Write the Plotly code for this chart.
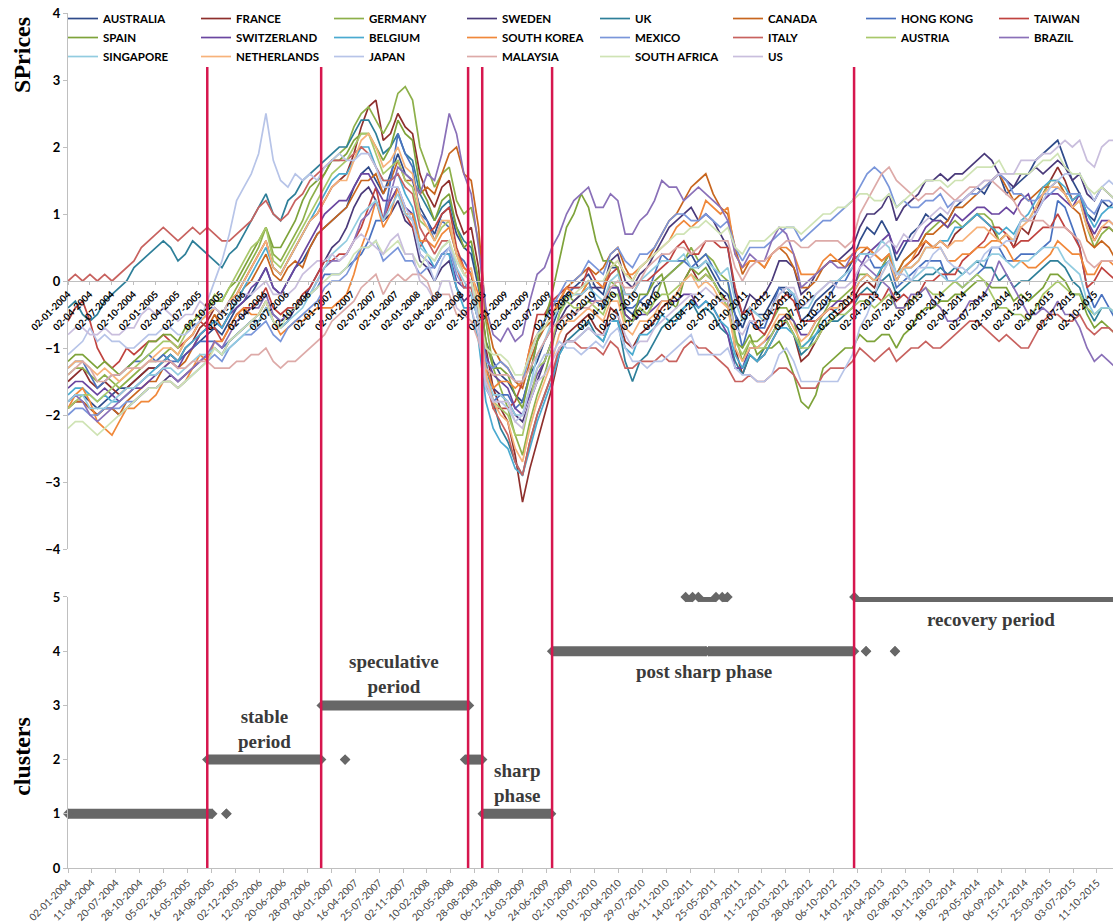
import plotly.graph_objects as go
import pandas as pd

# ---------------- data ----------------
countries = ["AUSTRALIA", "FRANCE", "GERMANY", "SWEDEN", "UK", "CANADA", "HONG KONG", "TAIWAN",
             "SPAIN", "SWITZERLAND", "BELGIUM", "SOUTH KOREA", "MEXICO", "ITALY", "AUSTRIA", "BRAZIL",
             "SINGAPORE", "NETHERLANDS", "JAPAN", "MALAYSIA", "SOUTH AFRICA", "US"]
colors = ["#2F4B8A", "#8E2F2C", "#8DB04A", "#4A3A7A", "#2E7F99", "#C8661E", "#4A72C0", "#C0433F",
          "#7EA33A", "#6A46A0", "#4AAAD0", "#F0883A", "#7A96DA", "#C8625F", "#A8C86A", "#8A70B8",
          "#92CCE0", "#F7B27A", "#B7C4E8", "#DDAAA8", "#CFE3B4", "#C9BEDD"]

# monthly readings, Jan 2004 .. Dec 2015 (one row per year)
AUSTRALIA = [-1.8,-1.7,-1.7,-1.8,-1.9,-1.8,-1.7,-1.6,-1.6,-1.5,-1.4,-1.3,
 -1.3,-1.2,-1.1,-1.2,-1.1,-1.0,-0.9,-0.8,-0.7,-0.8,-0.6,-0.4,
 -0.3,-0.2,0.0,0.2,-0.1,-0.2,0.0,0.2,0.3,0.5,0.7,0.8,
 0.9,1.0,1.1,1.4,1.6,1.7,1.5,1.3,1.6,1.9,1.6,1.5,
 1.1,0.9,0.7,1.0,1.1,0.7,0.5,0.4,-0.1,-0.9,-1.2,-1.4,
 -1.5,-1.7,-1.8,-1.4,-1.2,-0.9,-0.7,-0.4,-0.2,-0.1,0.0,0.1,
 -0.1,-0.2,0.2,0.2,-0.4,-0.5,-0.3,-0.4,-0.1,0.0,0.1,0.2,
 0.3,0.4,0.2,0.3,0.1,-0.1,-0.2,-0.5,-0.7,-0.4,-0.5,-0.5,
 -0.3,-0.1,-0.1,-0.2,-0.6,-0.5,-0.3,-0.2,-0.1,0.0,0.1,0.3,
 0.6,0.8,0.7,0.9,0.7,0.3,0.5,0.7,0.8,1.0,0.9,1.0,
 0.9,1.1,1.2,1.3,1.4,1.3,1.5,1.6,1.3,1.4,1.5,1.6,
 1.8,1.9,2.0,2.1,1.8,1.5,1.3,1.0,0.9,1.2,1.1,1.2]
FRANCE = [-1.5,-1.4,-1.3,-1.5,-1.6,-1.5,-1.6,-1.7,-1.6,-1.5,-1.4,-1.3,
 -1.3,-1.2,-1.1,-1.2,-1.0,-0.9,-0.7,-0.6,-0.4,-0.5,-0.3,-0.2,
 0.0,0.2,0.4,0.6,0.2,0.1,0.3,0.5,0.7,0.9,1.0,1.2,
 1.4,1.5,1.6,1.9,2.3,2.6,2.7,2.1,2.2,2.5,2.3,2.2,
 1.6,1.3,1.1,1.4,1.5,1.0,0.7,0.8,0.2,-1.0,-1.6,-1.9,
 -2.1,-2.6,-3.3,-2.8,-2.4,-2.0,-1.6,-1.1,-0.8,-0.7,-0.6,-0.5,
 -0.7,-0.8,-0.4,-0.5,-0.9,-1.0,-0.8,-0.7,-0.6,-0.4,-0.3,-0.2,
 0.0,0.2,0.0,0.1,0.0,-0.2,-0.3,-1.0,-1.4,-1.1,-1.2,-1.1,
 -0.9,-0.7,-0.6,-0.8,-1.2,-1.1,-0.9,-0.7,-0.6,-0.5,-0.4,-0.3,
 -0.1,0.0,-0.1,0.2,0.4,0.0,0.2,0.3,0.4,0.6,0.5,0.6,
 0.5,0.7,0.8,0.9,1.0,0.9,0.8,0.6,0.7,0.5,0.8,0.7,
 1.0,1.3,1.5,1.7,1.5,1.2,1.3,0.9,0.6,0.8,0.8,0.7]
GERMANY = [-1.4,-1.3,-1.3,-1.4,-1.5,-1.4,-1.5,-1.6,-1.5,-1.4,-1.3,-1.2,
 -1.2,-1.1,-1.0,-1.1,-0.9,-0.8,-0.6,-0.5,-0.4,-0.5,-0.3,-0.1,
 0.1,0.3,0.5,0.8,0.4,0.3,0.5,0.7,0.9,1.2,1.4,1.6,
 1.8,1.9,2.0,2.3,2.5,2.6,2.4,2.2,2.4,2.8,2.9,2.7,
 2.0,1.7,1.4,1.6,1.7,1.2,1.0,1.1,0.6,-0.6,-1.3,-1.6,
 -1.9,-2.3,-2.6,-2.1,-1.7,-1.4,-1.0,-0.5,-0.2,-0.3,-0.2,0.0,
 -0.3,-0.4,0.0,-0.1,-0.6,-0.6,-0.4,-0.5,-0.3,0.0,0.1,0.2,
 0.3,0.5,0.3,0.4,0.3,0.1,0.0,-0.8,-1.2,-0.9,-0.9,-0.8,
 -0.6,-0.4,-0.4,-0.6,-1.0,-0.9,-0.7,-0.5,-0.3,-0.3,-0.2,-0.1,
 0.1,0.1,0.0,0.2,0.4,0.1,0.3,0.4,0.5,0.7,0.8,0.9,
 0.8,0.9,0.8,0.9,1.0,1.0,0.9,0.6,0.7,0.6,0.9,0.9,
 1.1,1.3,1.5,1.5,1.3,1.1,1.2,0.8,0.5,0.7,0.8,0.7]
SWEDEN = [-1.9,-1.8,-1.8,-1.9,-2.0,-1.9,-1.9,-2.0,-1.9,-1.8,-1.7,-1.6,
 -1.6,-1.5,-1.4,-1.5,-1.4,-1.3,-1.2,-1.1,-1.0,-1.1,-0.9,-0.8,
 -0.7,-0.6,-0.5,-0.3,-0.6,-0.7,-0.6,-0.4,-0.3,-0.1,0.1,0.3,
 0.5,0.6,0.8,1.1,1.3,1.4,1.2,0.9,1.0,1.2,0.9,0.8,
 0.3,0.2,0.0,0.2,0.3,-0.1,-0.3,-0.2,-0.6,-1.3,-1.6,-1.7,
 -1.8,-2.0,-2.1,-1.8,-1.5,-1.2,-0.9,-0.6,-0.4,-0.3,-0.2,-0.1,
 -0.1,-0.1,0.3,0.4,0.0,-0.1,0.1,0.2,0.4,0.6,0.8,0.9,
 1.0,1.1,0.9,1.0,0.9,0.7,0.5,-0.2,-0.5,-0.2,-0.3,-0.2,
 0.0,0.3,0.3,0.2,-0.2,-0.1,0.1,0.2,0.3,0.3,0.4,0.5,
 0.8,1.0,1.0,1.1,1.3,0.9,1.1,1.2,1.3,1.5,1.5,1.6,
 1.5,1.6,1.6,1.7,1.8,1.9,1.8,1.6,1.5,1.4,1.6,1.6,
 1.7,1.6,1.7,1.8,1.7,1.5,1.6,1.3,1.2,1.4,1.3,1.2]
UK = [-0.4,-0.3,-0.5,-0.6,-0.5,-0.3,-0.2,-0.1,0.0,0.2,0.3,0.4,
 0.5,0.6,0.5,0.3,0.4,0.6,0.5,0.4,0.3,0.2,0.4,0.5,
 0.7,0.9,1.1,1.3,1.0,0.9,1.2,1.3,1.5,1.6,1.7,1.8,
 1.9,2.0,2.0,2.2,2.4,2.4,2.2,1.9,2.0,2.2,1.9,1.8,
 1.3,1.1,0.9,1.1,1.2,0.8,0.6,0.5,0.0,-1.2,-1.8,-2.2,
 -2.4,-2.7,-2.9,-2.4,-2.0,-1.7,-1.4,-1.1,-0.9,-0.8,-0.7,-0.6,
 -0.8,-0.9,-0.6,-0.6,-1.2,-1.5,-1.2,-1.1,-0.9,-0.7,-0.6,-0.5,
 -0.4,-0.3,-0.5,-0.4,-0.5,-0.7,-0.8,-1.2,-1.4,-1.1,-1.2,-1.0,
 -0.8,-0.6,-0.6,-0.8,-1.1,-1.0,-0.8,-0.7,-0.6,-0.6,-0.5,-0.4,
 -0.2,-0.1,-0.2,0.0,0.1,-0.2,-0.1,0.0,0.0,0.1,0.1,0.2,
 0.1,0.2,0.1,0.2,0.3,0.2,0.2,0.0,0.1,-0.1,0.0,0.0,
 0.1,0.2,0.3,0.3,0.2,0.0,-0.1,-0.4,-0.6,-0.4,-0.4,-0.5]
CANADA = [-1.9,-1.8,-1.8,-1.9,-2.0,-1.9,-1.9,-2.0,-1.8,-1.7,-1.6,-1.5,
 -1.5,-1.3,-1.2,-1.3,-1.2,-1.0,-0.8,-0.7,-0.5,-0.7,-0.5,-0.3,
 -0.1,0.0,0.2,0.4,0.1,0.0,0.2,0.3,0.2,0.5,0.7,0.8,
 0.9,1.0,1.1,1.3,1.5,1.5,1.6,1.3,1.5,1.8,1.5,1.5,
 1.3,1.4,1.3,1.6,1.9,2.0,1.6,1.5,0.8,-0.5,-1.0,-1.2,
 -1.3,-1.5,-1.6,-1.2,-0.9,-0.7,-0.6,-0.3,-0.1,0.0,0.1,0.2,
 0.1,0.2,0.4,0.5,0.2,0.0,0.2,0.3,0.5,0.7,0.9,1.0,
 1.2,1.4,1.5,1.6,1.3,1.1,1.0,0.5,0.1,0.3,0.3,0.2,
 0.4,0.5,0.4,0.2,-0.1,-0.1,0.0,0.2,0.3,0.3,0.2,0.3,
 0.4,0.5,0.4,0.3,0.4,0.1,0.3,0.4,0.5,0.7,0.7,0.8,
 0.9,1.1,1.1,1.2,1.3,1.4,1.5,1.6,1.4,1.2,1.3,1.2,
 1.3,1.4,1.4,1.5,1.3,1.1,1.0,0.6,0.5,0.6,0.5,0.3]
HONG_KONG = [-1.3,-1.2,-1.2,-1.4,-1.6,-1.5,-1.4,-1.4,-1.3,-1.2,-1.2,-1.1,
 -1.2,-1.1,-1.2,-1.2,-1.1,-1.0,-0.9,-0.9,-0.9,-1.0,-0.9,-0.8,
 -0.7,-0.6,-0.6,-0.4,-0.5,-0.6,-0.5,-0.4,-0.3,-0.2,-0.1,0.1,
 0.1,0.1,0.2,0.3,0.4,0.6,0.9,0.9,1.5,2.2,1.9,1.7,
 1.0,0.9,0.6,0.9,0.8,0.4,0.3,0.1,-0.5,-1.6,-1.8,-1.7,
 -1.7,-1.9,-1.8,-1.4,-0.9,-0.6,-0.3,-0.3,-0.2,-0.1,-0.1,0.0,
 -0.3,-0.4,-0.1,-0.1,-0.4,-0.4,-0.3,-0.2,0.1,0.4,0.3,0.3,
 0.3,0.2,0.3,0.4,0.2,0.0,0.0,-0.5,-1.0,-0.6,-0.7,-0.7,
 -0.4,-0.1,-0.2,-0.2,-0.6,-0.6,-0.5,-0.4,-0.2,0.0,0.0,0.2,
 0.4,0.4,0.2,0.2,0.3,-0.1,0.0,0.1,0.2,0.3,0.3,0.3,
 0.0,0.0,-0.1,0.0,0.1,0.2,0.5,0.5,0.3,0.3,0.4,0.4,
 0.4,0.5,0.6,1.2,1.1,0.8,0.5,-0.1,-0.4,-0.2,-0.4,-0.6]
TAIWAN = [-0.6,-0.4,-0.3,-0.6,-1.0,-1.2,-1.3,-1.2,-1.0,-1.1,-1.0,-0.9,
 -0.9,-0.8,-0.9,-1.0,-0.9,-0.8,-0.6,-0.7,-0.7,-0.9,-0.7,-0.5,
 -0.4,-0.4,-0.3,-0.1,-0.4,-0.5,-0.4,-0.4,-0.2,-0.1,0.1,0.3,
 0.3,0.4,0.4,0.6,0.8,1.1,1.4,0.9,1.2,1.4,1.0,0.8,
 0.5,0.7,0.8,1.0,1.1,0.5,0.2,0.1,-0.5,-1.4,-1.9,-1.9,
 -1.9,-1.8,-1.5,-1.0,-0.5,-0.5,-0.3,-0.2,-0.1,-0.1,-0.1,0.2,
 0.0,-0.1,0.1,0.2,-0.2,-0.2,0.0,0.0,0.1,0.2,0.3,0.5,
 0.6,0.4,0.4,0.6,0.6,0.5,0.5,-0.1,-0.5,-0.4,-0.7,-0.8,
 -0.6,-0.3,-0.2,-0.3,-0.6,-0.6,-0.6,-0.5,-0.4,-0.5,-0.4,-0.3,
 -0.2,-0.2,-0.2,-0.3,-0.1,-0.3,-0.2,-0.3,-0.2,0.0,0.0,0.1,
 0.1,0.1,0.3,0.4,0.5,0.6,0.8,0.8,0.7,0.5,0.6,0.6,
 0.7,0.8,0.8,1.0,0.8,0.7,0.5,-0.1,0.0,0.2,0.1,0.0]
SPAIN = [-1.2,-1.1,-1.1,-1.2,-1.3,-1.2,-1.3,-1.4,-1.3,-1.2,-1.1,-0.9,
 -0.9,-0.8,-0.8,-0.9,-0.7,-0.6,-0.5,-0.4,-0.3,-0.3,-0.1,0.0,
 0.2,0.4,0.6,0.8,0.5,0.5,0.7,0.9,1.2,1.4,1.5,1.6,
 1.8,1.8,1.9,2.1,2.2,2.2,2.0,1.8,2.0,2.4,2.2,2.1,
 1.4,1.2,0.9,1.2,1.3,0.8,0.5,0.6,0.0,-0.9,-1.3,-1.3,
 -1.4,-1.7,-1.9,-1.4,-0.9,-0.6,-0.2,0.3,0.8,1.0,1.3,1.1,
 0.6,0.3,0.3,0.2,-0.5,-0.6,-0.2,-0.2,0.0,0.1,-0.3,-0.4,
 0.0,0.2,0.1,0.2,0.0,-0.2,-0.4,-0.9,-1.0,-0.8,-1.1,-1.0,
 -1.0,-0.9,-1.1,-1.4,-1.8,-1.9,-1.7,-1.3,-1.2,-1.1,-1.0,-1.0,
 -0.8,-0.9,-0.9,-0.8,-0.8,-1.0,-0.8,-0.7,-0.5,-0.4,-0.4,-0.3,
 -0.3,-0.2,-0.2,-0.1,0.0,0.0,-0.1,-0.1,-0.1,-0.3,-0.2,-0.3,
 -0.2,-0.1,0.1,0.1,0.0,-0.2,-0.2,-0.5,-0.7,-0.6,-0.7,-0.8]
SWITZERLAND = [-1.6,-1.5,-1.5,-1.6,-1.7,-1.6,-1.7,-1.8,-1.7,-1.6,-1.6,-1.5,
 -1.4,-1.3,-1.2,-1.3,-1.1,-1.0,-0.8,-0.7,-0.6,-0.7,-0.5,-0.4,
 -0.3,-0.1,0.0,0.2,-0.1,-0.2,0.0,0.2,0.4,0.6,0.8,1.0,
 1.1,1.2,1.2,1.4,1.6,1.6,1.4,1.2,1.2,1.4,1.1,1.0,
 0.4,0.3,0.2,0.4,0.4,0.0,-0.1,0.0,-0.4,-1.1,-1.4,-1.5,
 -1.6,-1.9,-2.0,-1.7,-1.4,-1.2,-0.9,-0.6,-0.5,-0.5,-0.4,-0.3,
 -0.3,-0.3,-0.1,-0.1,-0.5,-0.6,-0.5,-0.5,-0.4,-0.3,-0.3,-0.3,
 -0.2,-0.2,-0.4,-0.3,-0.4,-0.6,-0.8,-1.3,-1.3,-1.0,-1.0,-0.9,
 -0.8,-0.6,-0.5,-0.6,-0.8,-0.8,-0.6,-0.5,-0.4,-0.3,-0.3,-0.2,
 0.2,0.4,0.5,0.6,0.7,0.4,0.6,0.6,0.6,0.8,0.9,0.9,
 0.8,1.0,0.9,1.0,1.1,1.1,1.0,1.0,1.1,1.0,1.2,1.3,
 1.0,1.2,1.3,1.3,1.2,1.1,1.3,0.9,0.7,0.9,0.9,0.8]
BELGIUM = [-1.7,-1.6,-1.6,-1.7,-1.8,-1.7,-1.8,-1.8,-1.7,-1.6,-1.5,-1.4,
 -1.3,-1.2,-1.1,-1.2,-1.0,-0.9,-0.8,-0.7,-0.6,-0.7,-0.5,-0.3,
 -0.1,0.1,0.3,0.5,0.2,0.1,0.3,0.5,0.7,0.9,1.1,1.3,
 1.5,1.6,1.6,1.8,2.0,2.0,1.7,1.5,1.5,1.6,1.3,1.1,
 0.6,0.4,0.2,0.4,0.4,-0.1,-0.4,-0.4,-0.9,-1.8,-2.2,-2.4,
 -2.5,-2.8,-2.9,-2.5,-2.1,-1.8,-1.5,-1.1,-0.9,-0.9,-0.8,-0.7,
 -0.8,-0.9,-0.6,-0.6,-1.0,-1.1,-0.8,-0.8,-0.7,-0.5,-0.6,-0.6,
 -0.4,-0.3,-0.4,-0.3,-0.4,-0.6,-0.7,-1.1,-1.3,-1.1,-1.2,-1.1,
 -0.9,-0.7,-0.7,-0.8,-1.0,-0.9,-0.8,-0.6,-0.5,-0.4,-0.3,-0.2,
 0.0,0.1,0.0,0.2,0.3,0.0,0.2,0.2,0.3,0.5,0.5,0.6,
 0.6,0.8,0.8,0.9,1.0,0.9,0.8,0.7,0.8,0.7,0.9,1.0,
 1.2,1.4,1.5,1.5,1.4,1.2,1.3,1.0,0.8,1.0,1.1,1.1]
SOUTH_KOREA = [-1.9,-1.7,-1.6,-1.8,-2.1,-2.2,-2.3,-2.1,-1.9,-1.9,-1.8,-1.8,
 -1.7,-1.5,-1.5,-1.6,-1.5,-1.3,-1.1,-1.2,-0.9,-0.9,-0.7,-0.5,
 -0.4,-0.5,-0.5,-0.3,-0.6,-0.8,-0.7,-0.6,-0.6,-0.5,-0.4,-0.4,
 -0.4,-0.3,-0.2,0.1,0.5,0.8,1.2,0.8,1.0,1.4,1.0,1.0,
 0.6,0.6,0.5,0.7,0.8,0.4,0.2,0.1,-0.2,-1.3,-1.6,-1.5,
 -1.5,-1.6,-1.5,-1.0,-0.8,-0.7,-0.5,-0.3,-0.1,-0.2,-0.2,0.0,
 0.0,-0.1,0.2,0.3,0.1,0.1,0.2,0.3,0.4,0.5,0.6,0.8,
 0.9,0.8,0.9,1.2,1.1,1.0,1.1,0.4,0.2,0.3,0.3,0.2,
 0.4,0.5,0.5,0.4,0.1,0.1,0.1,0.3,0.4,0.3,0.3,0.4,
 0.5,0.5,0.4,0.3,0.4,0.1,0.2,0.3,0.5,0.6,0.5,0.5,
 0.3,0.3,0.4,0.4,0.5,0.5,0.6,0.6,0.5,0.3,0.3,0.2,
 0.2,0.3,0.4,0.6,0.5,0.4,0.4,0.1,0.1,0.3,0.3,0.2]
MEXICO = [-2.0,-1.9,-1.9,-2.0,-2.0,-1.9,-1.9,-1.9,-1.8,-1.8,-1.7,-1.6,
 -1.6,-1.5,-1.5,-1.6,-1.5,-1.4,-1.3,-1.2,-1.1,-1.2,-1.0,-0.9,
 -0.8,-0.8,-0.7,-0.6,-0.8,-0.9,-0.7,-0.6,-0.5,-0.4,-0.3,-0.1,
 0.0,0.0,0.1,0.3,0.5,0.5,0.6,0.3,0.4,0.5,0.3,0.3,
 0.1,0.2,0.2,0.4,0.5,0.1,-0.1,-0.1,-0.5,-1.2,-1.3,-1.2,
 -1.3,-1.5,-1.5,-1.1,-0.8,-0.6,-0.4,-0.2,0.0,0.0,0.1,0.3,
 0.2,0.1,0.4,0.5,0.3,0.2,0.4,0.4,0.5,0.7,0.9,1.0,
 1.0,0.9,0.9,1.0,0.9,0.8,0.9,0.5,0.3,0.5,0.5,0.5,
 0.6,0.7,0.8,0.8,0.6,0.7,0.8,0.9,0.9,1.0,1.1,1.2,
 1.4,1.6,1.7,1.6,1.4,1.1,1.2,1.1,1.1,1.2,1.2,1.3,
 1.1,1.2,1.2,1.3,1.3,1.4,1.5,1.6,1.5,1.3,1.3,1.2,
 1.2,1.3,1.3,1.4,1.3,1.3,1.3,1.1,1.0,1.2,1.2,1.1]
ITALY = [0.0,0.1,0.0,0.1,0.0,0.1,0.0,0.1,0.2,0.3,0.5,0.6,
 0.7,0.8,0.7,0.6,0.7,0.8,0.7,0.8,0.7,0.6,0.6,0.7,
 0.8,0.9,1.1,1.2,1.0,0.9,1.0,1.2,1.3,1.5,1.6,1.7,
 1.8,1.8,1.8,1.9,2.0,1.9,1.7,1.5,1.5,1.6,1.4,1.3,
 0.8,0.6,0.4,0.6,0.6,0.2,-0.1,-0.1,-0.6,-1.5,-1.9,-2.1,
 -2.3,-2.7,-2.9,-2.4,-2.0,-1.7,-1.4,-1.0,-0.9,-0.9,-1.0,-1.0,
 -1.0,-1.1,-0.9,-1.0,-1.3,-1.3,-1.2,-1.2,-1.2,-1.1,-1.2,-1.2,
 -1.0,-0.9,-1.0,-1.0,-1.1,-1.2,-1.3,-1.5,-1.5,-1.4,-1.5,-1.5,
 -1.4,-1.3,-1.3,-1.4,-1.6,-1.6,-1.6,-1.4,-1.3,-1.3,-1.3,-1.2,
 -1.0,-1.1,-1.2,-1.1,-1.0,-1.2,-1.1,-1.0,-1.0,-0.9,-1.0,-1.0,
 -0.9,-0.8,-0.7,-0.6,-0.6,-0.7,-0.8,-0.9,-0.8,-0.9,-1.0,-1.0,
 -0.8,-0.6,-0.5,-0.5,-0.6,-0.6,-0.5,-0.7,-0.8,-0.7,-0.7,-0.8]
AUSTRIA = [-1.9,-1.8,-1.7,-1.7,-1.8,-1.7,-1.6,-1.5,-1.4,-1.3,-1.2,-1.1,
 -1.0,-0.9,-0.9,-1.0,-0.8,-0.6,-0.5,-0.4,-0.2,-0.3,-0.1,0.1,
 0.3,0.5,0.6,0.8,0.3,0.2,0.4,0.6,0.8,1.0,1.2,1.4,
 1.6,1.7,1.8,2.0,2.2,2.2,1.9,1.6,1.7,1.8,1.5,1.4,
 0.9,0.8,0.6,0.8,0.9,0.4,0.1,0.0,-0.6,-1.5,-1.8,-1.9,
 -2.0,-2.3,-2.3,-1.8,-1.3,-1.2,-0.9,-0.5,-0.3,-0.4,-0.4,-0.3,
 -0.4,-0.5,-0.2,-0.2,-0.6,-0.6,-0.4,-0.5,-0.3,-0.2,-0.2,-0.1,
 0.0,0.1,0.0,0.1,0.0,-0.2,-0.4,-0.9,-1.1,-0.9,-1.0,-1.0,
 -0.8,-0.6,-0.6,-0.8,-1.0,-1.0,-0.9,-0.7,-0.6,-0.5,-0.5,-0.4,
 -0.3,-0.3,-0.4,-0.3,-0.2,-0.4,-0.4,-0.3,-0.2,-0.1,-0.2,-0.2,
 -0.1,0.0,-0.1,0.0,0.1,0.0,-0.2,-0.4,-0.4,-0.5,-0.5,-0.6,
 -0.4,-0.2,-0.1,0.0,-0.1,-0.2,-0.2,-0.4,-0.5,-0.4,-0.4,-0.5]
BRAZIL = [-1.8,-1.7,-1.8,-2.0,-2.1,-2.0,-1.9,-1.8,-1.7,-1.6,-1.5,-1.4,
 -1.4,-1.3,-1.4,-1.5,-1.4,-1.3,-1.2,-1.1,-0.9,-1.0,-0.8,-0.6,
 -0.5,-0.4,-0.4,-0.2,-0.5,-0.6,-0.5,-0.4,-0.3,-0.2,0.0,0.2,
 0.3,0.3,0.4,0.6,0.9,1.0,1.2,0.9,1.3,1.7,1.6,1.5,
 1.3,1.6,1.5,1.9,2.5,2.2,1.6,1.3,0.5,-0.4,-0.8,-0.9,
 -0.7,-0.9,-0.8,-0.3,0.1,0.2,0.5,0.7,1.0,1.2,1.3,1.4,
 1.1,1.1,1.3,1.2,0.7,0.7,0.9,1.0,1.2,1.5,1.4,1.4,
 1.2,1.3,1.4,1.3,1.2,1.1,0.9,0.4,0.2,0.4,0.3,0.3,
 0.6,0.8,0.7,0.4,-0.1,0.0,0.1,0.2,0.3,0.2,0.2,0.4,
 0.3,0.2,0.1,0.0,-0.1,-0.4,-0.4,-0.2,-0.2,-0.1,-0.3,-0.4,
 -0.6,-0.6,-0.5,-0.3,-0.3,-0.2,0.0,0.3,0.1,-0.1,-0.3,-0.5,
 -0.5,-0.4,-0.5,-0.3,-0.5,-0.5,-0.7,-1.0,-1.2,-1.1,-1.2,-1.3]
SINGAPORE = [-1.8,-1.7,-1.7,-1.9,-1.9,-1.9,-1.8,-1.7,-1.6,-1.6,-1.5,-1.4,
 -1.4,-1.3,-1.3,-1.4,-1.3,-1.2,-1.1,-1.1,-1.0,-1.1,-1.0,-0.9,
 -0.8,-0.7,-0.6,-0.4,-0.6,-0.7,-0.6,-0.5,-0.4,-0.2,0.0,0.2,
 0.4,0.5,0.6,0.8,1.0,1.1,1.2,0.9,1.1,1.3,1.0,0.9,
 0.5,0.4,0.3,0.5,0.6,0.2,0.0,-0.2,-0.6,-1.4,-1.7,-1.7,
 -1.8,-2.0,-2.0,-1.6,-1.1,-0.9,-0.6,-0.4,-0.3,-0.2,-0.2,-0.1,
 -0.2,-0.3,0.0,0.1,-0.2,-0.2,0.0,0.1,0.2,0.3,0.3,0.3,
 0.4,0.2,0.2,0.3,0.2,0.1,0.2,-0.3,-0.6,-0.4,-0.5,-0.6,
 -0.4,-0.2,-0.1,-0.2,-0.4,-0.4,-0.2,-0.1,0.0,0.0,0.1,0.2,
 0.4,0.4,0.4,0.6,0.5,0.1,0.2,0.0,0.1,0.2,0.2,0.1,
 0.0,0.0,0.1,0.2,0.3,0.3,0.4,0.4,0.3,0.2,0.3,0.3,
 0.4,0.5,0.5,0.5,0.3,0.2,0.1,-0.3,-0.5,-0.4,-0.4,-0.5]
NETHERLANDS = [-1.3,-1.2,-1.2,-1.3,-1.4,-1.3,-1.4,-1.5,-1.4,-1.3,-1.3,-1.2,
 -1.1,-1.0,-1.0,-1.1,-0.9,-0.8,-0.6,-0.5,-0.4,-0.5,-0.3,-0.2,
 0.0,0.2,0.4,0.6,0.2,0.1,0.3,0.5,0.7,0.9,1.0,1.2,
 1.4,1.5,1.5,1.8,2.1,2.2,2.0,1.7,1.8,2.0,1.7,1.6,
 1.0,0.8,0.6,0.9,0.9,0.4,0.1,0.2,-0.4,-1.4,-1.8,-2.0,
 -2.1,-2.5,-2.7,-2.2,-1.8,-1.5,-1.2,-0.8,-0.6,-0.6,-0.5,-0.4,
 -0.5,-0.6,-0.3,-0.3,-0.7,-0.8,-0.6,-0.6,-0.5,-0.3,-0.3,-0.2,
 0.0,0.1,-0.1,0.0,-0.1,-0.3,-0.4,-1.0,-1.2,-1.0,-1.0,-0.9,
 -0.7,-0.5,-0.5,-0.7,-0.9,-0.8,-0.6,-0.5,-0.4,-0.4,-0.3,-0.2,
 0.0,0.1,0.0,0.1,0.3,0.0,0.2,0.2,0.3,0.5,0.5,0.6,
 0.5,0.6,0.6,0.7,0.8,0.8,0.7,0.6,0.7,0.6,0.8,0.9,
 1.1,1.3,1.4,1.4,1.3,1.1,1.2,0.8,0.6,0.8,0.9,0.8]
JAPAN = [-1.1,-1.0,-0.9,-0.7,-0.9,-0.8,-0.9,-0.9,-1.0,-1.0,-0.9,-0.8,
 -0.8,-0.7,-0.7,-0.8,-0.8,-0.7,-0.6,-0.3,0.0,0.3,0.7,1.2,
 1.4,1.6,1.9,2.5,1.8,1.5,1.4,1.6,1.5,1.6,1.5,1.7,
 1.8,1.9,1.8,1.8,1.9,1.9,1.7,1.4,1.4,1.4,1.1,0.9,
 0.4,0.3,0.0,0.3,0.5,0.3,0.1,0.0,-0.6,-1.6,-1.8,-1.8,
 -1.9,-2.1,-2.0,-1.6,-1.3,-1.1,-1.1,-0.9,-1.0,-1.0,-1.1,-1.0,
 -0.9,-1.0,-0.8,-0.7,-1.0,-1.2,-1.2,-1.3,-1.2,-1.2,-1.1,-1.0,
 -0.9,-0.8,-1.1,-1.1,-1.1,-1.1,-1.0,-1.3,-1.4,-1.4,-1.5,-1.5,
 -1.4,-1.1,-1.0,-1.2,-1.5,-1.5,-1.5,-1.5,-1.5,-1.5,-1.3,-1.1,
 -0.7,-0.5,-0.2,0.1,0.3,0.1,0.1,0.0,0.2,0.2,0.4,0.5,
 0.3,0.2,0.2,0.1,0.2,0.4,0.5,0.5,0.6,0.6,0.9,0.9,
 1.0,1.2,1.4,1.5,1.6,1.6,1.6,1.4,1.2,1.4,1.5,1.4]
MALAYSIA = [-1.4,-1.3,-1.2,-1.3,-1.5,-1.5,-1.4,-1.4,-1.3,-1.3,-1.3,-1.2,
 -1.2,-1.2,-1.2,-1.3,-1.3,-1.2,-1.2,-1.2,-1.3,-1.3,-1.3,-1.2,
 -1.2,-1.1,-1.1,-1.0,-1.2,-1.3,-1.2,-1.2,-1.1,-1.0,-0.9,-0.8,
 -0.6,-0.5,-0.4,-0.3,-0.1,0.0,0.1,-0.2,0.0,0.1,0.0,0.1,
 0.1,0.0,-0.3,-0.2,-0.2,-0.5,-0.5,-0.6,-0.9,-1.3,-1.4,-1.4,
 -1.4,-1.5,-1.5,-1.3,-1.1,-0.9,-0.7,-0.6,-0.5,-0.5,-0.4,-0.4,
 -0.3,-0.3,-0.1,0.0,-0.1,-0.1,0.0,0.2,0.3,0.4,0.4,0.5,
 0.5,0.4,0.5,0.6,0.6,0.6,0.6,0.2,0.0,0.2,0.3,0.3,
 0.4,0.5,0.6,0.6,0.5,0.5,0.6,0.6,0.6,0.6,0.5,0.6,
 1.0,1.2,1.4,1.6,1.7,1.5,1.4,1.3,1.2,1.3,1.3,1.4,
 1.3,1.2,1.3,1.4,1.4,1.5,1.5,1.4,1.3,1.2,1.0,0.9,
 0.9,0.9,0.8,0.8,0.8,0.7,0.6,0.3,0.2,0.3,0.3,0.3]
SOUTH_AFRICA = [-2.2,-2.1,-2.1,-2.2,-2.3,-2.2,-2.1,-2.0,-1.9,-1.8,-1.7,-1.6,
 -1.6,-1.5,-1.5,-1.6,-1.5,-1.4,-1.3,-1.2,-1.0,-1.1,-0.9,-0.8,
 -0.7,-0.6,-0.5,-0.3,-0.6,-0.7,-0.5,-0.4,-0.3,-0.2,-0.1,0.0,
 0.1,0.1,0.2,0.4,0.5,0.5,0.6,0.4,0.5,0.6,0.4,0.4,
 0.2,0.4,0.3,0.5,0.6,0.3,0.1,0.0,-0.4,-1.0,-1.1,-1.1,
 -1.2,-1.4,-1.4,-1.1,-0.8,-0.7,-0.5,-0.4,-0.3,-0.2,-0.1,0.0,
 0.0,0.0,0.2,0.3,0.1,0.0,0.2,0.3,0.4,0.5,0.6,0.7,
 0.7,0.8,0.8,0.9,0.8,0.7,0.8,0.5,0.4,0.6,0.6,0.6,
 0.7,0.8,0.8,0.8,0.7,0.8,0.9,1.0,1.0,1.1,1.1,1.2,
 1.3,1.3,1.2,1.2,1.3,1.1,1.2,1.3,1.4,1.5,1.5,1.5,
 1.4,1.5,1.5,1.6,1.7,1.7,1.7,1.8,1.6,1.6,1.6,1.6,
 1.7,1.8,1.8,1.9,1.7,1.6,1.6,1.4,1.3,1.4,1.3,1.2]
US = [-0.8,-0.7,-0.7,-0.8,-0.8,-0.7,-0.8,-0.8,-0.7,-0.7,-0.5,-0.4,
 -0.5,-0.4,-0.5,-0.6,-0.5,-0.5,-0.3,-0.4,-0.4,-0.5,-0.3,-0.3,
 -0.2,-0.2,-0.1,0.0,-0.2,-0.2,-0.2,-0.1,0.1,0.2,0.3,0.3,
 0.4,0.3,0.4,0.6,0.7,0.6,0.5,0.4,0.6,0.7,0.4,0.4,
 0.0,-0.1,-0.3,0.0,0.0,-0.4,-0.5,-0.4,-0.8,-1.5,-1.8,-1.8,
 -1.8,-2.1,-2.2,-1.8,-1.5,-1.4,-1.2,-1.0,-0.9,-0.9,-0.8,-0.7,
 -0.8,-0.8,-0.6,-0.5,-0.8,-1.0,-0.9,-0.9,-0.7,-0.6,-0.5,-0.4,
 -0.3,-0.2,-0.2,-0.1,-0.2,-0.3,-0.3,-0.7,-0.8,-0.6,-0.6,-0.6,
 -0.4,-0.2,-0.1,-0.1,-0.4,-0.3,-0.2,-0.1,0.0,-0.1,-0.1,0.0,
 0.2,0.3,0.4,0.5,0.6,0.5,0.7,0.6,0.8,0.9,1.0,1.1,
 1.0,1.2,1.2,1.3,1.4,1.5,1.5,1.6,1.6,1.6,1.8,1.8,
 1.8,1.9,1.9,2.0,2.1,2.0,2.1,1.8,1.7,2.0,2.1,2.1]

series = [AUSTRALIA, FRANCE, GERMANY, SWEDEN, UK, CANADA, HONG_KONG, TAIWAN,
          SPAIN, SWITZERLAND, BELGIUM, SOUTH_KOREA, MEXICO, ITALY, AUSTRIA, BRAZIL,
          SINGAPORE, NETHERLANDS, JAPAN, MALAYSIA, SOUTH_AFRICA, US]
for s in series:
    assert len(s) == 144, len(s)

month_dates = pd.date_range("2004-01-02", "2015-12-31", periods=144)

# cluster membership runs (start, end, cluster)
run_start = ["2004-01-02", "2005-10-25", "2005-08-06", "2007-03-05", "2006-11-27", "2008-07-18",
             "2008-09-30", "2009-07-17", "2011-05-02", "2013-02-18", "2013-06-19",
             "2011-01-26", "2011-03-20", "2011-06-28", "2012-12-31"]
run_end = ["2005-08-27", "2005-10-25", "2006-11-25", "2007-03-05", "2008-08-04", "2008-09-28",
           "2009-07-13", "2011-04-22", "2012-12-30", "2013-02-18", "2013-06-19",
           "2011-02-24", "2011-06-02", "2011-07-20", "2015-12-31"]
run_cluster = [1, 1, 2, 2, 3, 2, 1, 4, 4, 4, 4, 5, 5, 5, 5]

phase_breaks = ["2005-08-06", "2006-11-25", "2008-07-31", "2008-09-28", "2009-07-17", "2012-12-30"]

phase_labels = ["stable<br>period", "speculative<br>period", "sharp<br>phase",
                "post sharp phase", "recovery period"]
phase_label_x = ["2006-04-01", "2007-09-26", "2009-02-21", "2011-04-14", "2014-07-25"]
phase_label_y = [2.56, 3.58, 1.57, 3.62, 4.59]

top_tick_dates = pd.date_range("2004-01-02", periods=48, freq=pd.DateOffset(months=3))
top_tick_text = [d.strftime("%d-%m-%Y") for d in top_tick_dates]
bottom_tick_dates = pd.date_range("2004-01-02", periods=44, freq="100D")
bottom_tick_text = [d.strftime("%d-%m-%Y") for d in bottom_tick_dates]

x_range = ["2004-01-02", "2015-12-17"]

# ---------------- figure ----------------
fig = go.Figure()

for name, col, vals in zip(countries, colors, series):
    fig.add_trace(go.Scatter(x=month_dates, y=vals, mode="lines", name=name,
                             line=dict(color=col, width=1.7), xaxis="x", yaxis="y"))

cx, cy = [], []
for s, e, c in zip(run_start, run_end, run_cluster):
    cx += [s, e, None]
    cy += [c, c, None]
fig.add_trace(go.Scatter(x=cx, y=cy, mode="lines+markers", showlegend=False,
                         line=dict(color="#676767", width=10),
                         marker=dict(symbol="diamond", size=8, color="#676767", line=dict(width=0)),
                         cliponaxis=False, xaxis="x2", yaxis="y2"))

grey = "#BFBFBF"
top_dom = [0.3731, 1.0]
bot_dom = [0.0, 0.3170]
zero_pos = (top_dom[0] + top_dom[1]) / 2

fig.update_layout(
    width=1113, height=923,
    margin=dict(l=68, r=0, t=13, b=55, autoexpand=False),
    paper_bgcolor="white", plot_bgcolor="white",
    font=dict(family="Lato", color="black"),
    xaxis=dict(domain=[0, 1], anchor="free", position=zero_pos, type="date", range=x_range,
               tickmode="array", tickvals=top_tick_dates, ticktext=top_tick_text, tickangle=-45,
               tickfont=dict(family="Lato", size=9.5, color="black", weight="bold"),
               showline=True, linecolor=grey, linewidth=1, ticks="outside", ticklen=3,
               tickcolor=grey, showgrid=False, zeroline=False),
    xaxis2=dict(domain=[0, 1], anchor="y2", type="date", range=x_range, matches="x",
                tickmode="array", tickvals=bottom_tick_dates, ticktext=bottom_tick_text, tickangle=-45,
                tickfont=dict(family="Lato", size=10, color="#404040"),
                showline=True, linecolor=grey, linewidth=1, ticks="outside", ticklen=4,
                tickcolor=grey, showgrid=False, zeroline=False),
    yaxis=dict(domain=top_dom, anchor="x", range=[-4, 4], tickmode="array",
               tickvals=[-4, -3, -2, -1, 0, 1, 2, 3, 4],
               tickfont=dict(family="Lato", size=13, color="black", weight="bold"),
               showline=True, linecolor=grey, ticks="outside", ticklen=4, tickcolor=grey,
               showgrid=False, zeroline=False),
    yaxis2=dict(domain=bot_dom, anchor="x2", range=[0, 5], tickmode="array",
                tickvals=[0, 1, 2, 3, 4, 5],
                tickfont=dict(family="Lato", size=13, color="black", weight="bold"),
                showline=True, linecolor=grey, ticks="outside", ticklen=4, tickcolor=grey,
                showgrid=False, zeroline=False),
    legend=dict(orientation="h", x=-0.0048, xanchor="left", y=1.0105, yanchor="top",
                entrywidth=88, entrywidthmode="pixels", itemwidth=30,
                font=dict(family="Lato", size=11.5, color="black", weight="bold"),
                bgcolor="rgba(0,0,0,0)", traceorder="normal"),
    showlegend=True,
)

for d in phase_breaks:
    fig.add_shape(type="line", xref="x", yref="paper", x0=d, x1=d, y0=0, y1=0.9368,
                  line=dict(color="#D6164E", width=2.5), layer="above")

for txt, xv, yv in zip(phase_labels, phase_label_x, phase_label_y):
    fig.add_annotation(x=xv, y=yv, xref="x2", yref="y2", text=txt, showarrow=False,
                       font=dict(family="Liberation Serif", size=19, color="#3A3A3A", weight="bold"),
                       align="center")

fig.add_annotation(x=-0.044, y=0.951, xref="paper", yref="paper", text="SPrices", textangle=-90,
                   xanchor="center", yanchor="middle", showarrow=False,
                   font=dict(family="Liberation Serif", size=24, color="black", weight="bold"))
fig.add_annotation(x=-0.044, y=0.130, xref="paper", yref="paper", text="clusters", textangle=-90,
                   xanchor="center", yanchor="middle", showarrow=False,
                   font=dict(family="Liberation Serif", size=24, color="black", weight="bold"))

fig.write_html("out.html", config={"displayModeBar": False},
               post_script="document.body.style.margin='0';document.body.style.overflow='hidden';")
